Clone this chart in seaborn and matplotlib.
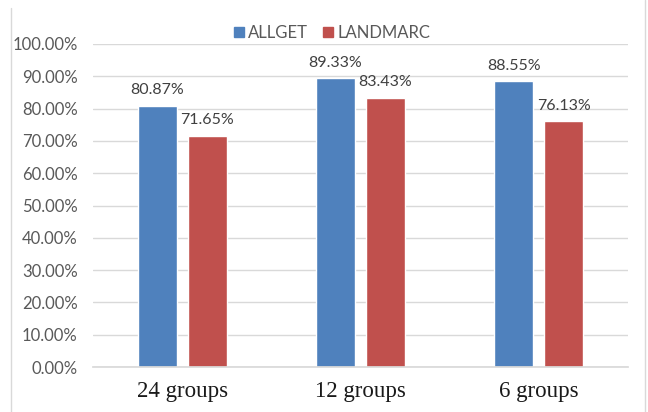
import matplotlib
matplotlib.use("Agg")
import matplotlib.pyplot as plt
from matplotlib.lines import Line2D
import seaborn as sns
import pandas as pd

categories = ["24 groups", "12 groups", "6 groups"]
allget = [80.87, 89.33, 88.55]
landmarc = [71.65, 83.43, 76.13]
series_names = ["ALLGET", "LANDMARC"]
y_ticks = [0, 10, 20, 30, 40, 50, 60, 70, 80, 90, 100]

df = pd.DataFrame({
    "group": categories * 2,
    "series": [series_names[0]] * 3 + [series_names[1]] * 3,
    "value": allget + landmarc,
})

sns.set_theme(style="white")
plt.rcParams["font.family"] = ["Lato", "DejaVu Sans"]

fig = plt.figure(figsize=(6.48, 4.12), dpi=100)
ax = fig.add_axes([93 / 648, 1 - 367 / 412, (628 - 93) / 648, (367 - 44) / 412])

sns.barplot(data=df, x="group", y="value", hue="series", order=categories,
            hue_order=series_names, palette=["#4F81BD", "#C0504D"],
            width=0.56, gap=0.22, saturation=1, ax=ax, legend=False)

ax.set_ylim(0, 100)
ax.set_xlim(-0.5, 2.5)
ax.set_yticks(y_ticks)
ax.set_yticklabels([f"{t:.2f}%" for t in y_ticks], color="#595959", fontsize=12)
ax.yaxis.grid(True, color="#D9D9D9", linewidth=1)
ax.set_axisbelow(True)
for s in ax.spines.values():
    s.set_visible(False)
ax.spines["bottom"].set_visible(True)
ax.spines["bottom"].set_color("#D9D9D9")
ax.tick_params(axis="both", length=0)
ax.tick_params(axis="y", pad=11)
ax.tick_params(axis="x", pad=10)
ax.set_xticklabels(categories, family=["Liberation Serif"], fontsize=16.5, color="#1a1a1a")
ax.set_xlabel("")
ax.set_ylabel("")

for container in ax.containers:
    ax.bar_label(container, labels=[f"{v:.2f}%" for v in container.datavalues],
                 padding=6, fontsize=11.5, color="#404040")

handles = [plt.Rectangle((0, 0), 1, 1, color=c) for c in ["#4F81BD", "#C0504D"]]
fig.legend(handles, series_names, loc="center", bbox_to_anchor=(332 / 648, 1 - 33 / 412),
           ncol=2, frameon=False, fontsize=12, handlelength=0.6, handleheight=0.6,
           handletextpad=0.25, columnspacing=0.9, labelcolor="#595959")

# thin outer frame lines
fig.add_artist(Line2D([11 / 648, 11 / 648], [0, 1 - 8 / 412], color="#D9D9D9", lw=1,
                      transform=fig.transFigure))
fig.add_artist(Line2D([645 / 648, 645 / 648], [0, 1], color="#D9D9D9", lw=1,
                      transform=fig.transFigure))

fig.savefig("out.png", dpi=100)
